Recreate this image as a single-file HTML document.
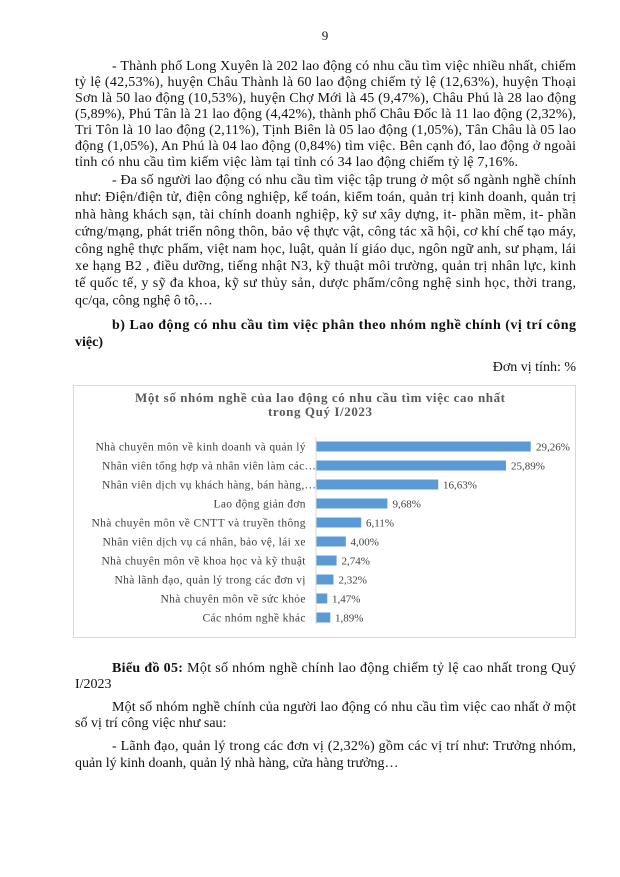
<!DOCTYPE html>
<html>
<head>
<meta charset="utf-8">
<style>
  html,body{margin:0;padding:0;background:#fff;}
  svg{display:block;}
  .t{font-family:"Liberation Serif","Noto Serif CJK SC",serif;font-size:14px;fill:#111;}
  .b{font-weight:bold;}
  .c{font-family:"Liberation Serif",serif;fill:#404040;}
</style>
</head>
<body>
<svg width="620" height="877" viewBox="0 0 620 877" xmlns="http://www.w3.org/2000/svg">
  <rect x="0" y="0" width="620" height="877" fill="#fff"/>
  <text class="t" x="325" y="40" text-anchor="middle" style="font-size:13px">9</text>

  <!-- Paragraph 1 -->
  <text class="t" x="112" y="70" textLength="464" lengthAdjust="spacing">- Thành phố Long Xuyên là 202 lao động có nhu cầu tìm việc nhiều nhất, chiếm</text>
  <text class="t" x="75" y="86" textLength="501" lengthAdjust="spacing">tỷ lệ (42,53%), huyện Châu Thành là 60 lao động chiếm tỷ lệ (12,63%), huyện Thoại</text>
  <text class="t" x="75" y="102" textLength="501" lengthAdjust="spacing">Sơn là 50 lao động (10,53%), huyện Chợ Mới là 45 (9,47%), Châu Phú là 28 lao động</text>
  <text class="t" x="75" y="118" textLength="501" lengthAdjust="spacing">(5,89%), Phú Tân là 21 lao động (4,42%), thành phố Châu Đốc là 11 lao động (2,32%),</text>
  <text class="t" x="75" y="134" textLength="501" lengthAdjust="spacing">Tri Tôn là 10 lao động (2,11%), Tịnh Biên là 05 lao động (1,05%), Tân Châu là 05 lao</text>
  <text class="t" x="75" y="150" textLength="501" lengthAdjust="spacing">động (1,05%), An Phú là 04 lao động (0,84%) tìm việc. Bên cạnh đó, lao động ở ngoài</text>
  <text class="t" x="75" y="166" textLength="443" lengthAdjust="spacing">tỉnh có nhu cầu tìm kiếm việc làm tại tỉnh có 34 lao động chiếm tỷ lệ 7,16%.</text>

  <!-- Paragraph 2 -->
  <text class="t" x="112" y="184" textLength="464" lengthAdjust="spacing">- Đa số người lao động có nhu cầu tìm việc tập trung ở một số ngành nghề chính</text>
  <text class="t" x="75" y="201.2" textLength="501" lengthAdjust="spacing">như: Điện/điện tử, điện công nghiệp, kế toán, kiểm toán, quản trị kinh doanh, quản trị</text>
  <text class="t" x="75" y="218.4" textLength="501" lengthAdjust="spacing">nhà hàng khách sạn, tài chính doanh nghiệp, kỹ sư xây dựng, it- phần mềm, it- phần</text>
  <text class="t" x="75" y="235.6" textLength="501" lengthAdjust="spacing">cứng/mạng, phát triển nông thôn, bảo vệ thực vật, công tác xã hội, cơ khí chế tạo máy,</text>
  <text class="t" x="75" y="252.8" textLength="501" lengthAdjust="spacing">công nghệ thực phẩm, việt nam học, luật, quản lí giáo dục, ngôn ngữ anh, sư phạm, lái</text>
  <text class="t" x="75" y="270" textLength="501" lengthAdjust="spacing">xe hạng B2 , điều dưỡng, tiếng nhật N3, kỹ thuật môi trường, quản trị nhân lực, kinh</text>
  <text class="t" x="75" y="287.2" textLength="501" lengthAdjust="spacing">tế quốc tế, y sỹ đa khoa, kỹ sư thủy sản, dược phẩm/công nghệ sinh học, thời trang,</text>
  <text class="t" x="75" y="304.4">qc/qa, công nghệ ô tô,…</text>

  <!-- Heading b -->
  <text class="t b" x="112" y="329" textLength="464" lengthAdjust="spacing">b) Lao động có nhu cầu tìm việc phân theo nhóm nghề chính (vị trí công</text>
  <text class="t b" x="75" y="346">việc)</text>

  <text class="t" x="576" y="371" text-anchor="end">Đơn vị tính: %</text>

  <!-- Chart -->
  <rect x="73.5" y="385.5" width="502" height="252" fill="#fff" stroke="#d9d9d9" stroke-width="1"/>
  <text class="c b" x="320" y="402" text-anchor="middle" style="font-size:13px;fill:#595959" textLength="370" lengthAdjust="spacing">Một số nhóm nghề của lao động có nhu cầu tìm việc cao nhất</text>
  <text class="c b" x="320" y="416" text-anchor="middle" style="font-size:13px;fill:#595959" textLength="104" lengthAdjust="spacing">trong Quý I/2023</text>

  <line x1="316" y1="437" x2="316" y2="624" stroke="#d9d9d9" stroke-width="1"/>

  <g fill="#5b9bd5">
    <rect x="316.5" y="441.5" width="214.2" height="10"/>
    <rect x="316.5" y="460.5" width="189.5" height="10"/>
    <rect x="316.5" y="479.5" width="121.7" height="10"/>
    <rect x="316.5" y="498.5" width="70.9" height="10"/>
    <rect x="316.5" y="517.5" width="44.7" height="10"/>
    <rect x="316.5" y="536.5" width="29.3" height="10"/>
    <rect x="316.5" y="555.5" width="20.1" height="10"/>
    <rect x="316.5" y="574.5" width="17.0" height="10"/>
    <rect x="316.5" y="593.5" width="10.8" height="10"/>
    <rect x="316.5" y="612.5" width="13.8" height="10"/>
  </g>

  <g class="c" style="font-size:11px">
    <text x="536" y="450.5">29,26%</text>
    <text x="511" y="469.5">25,89%</text>
    <text x="443" y="488.5">16,63%</text>
    <text x="392.5" y="507.5">9,68%</text>
    <text x="366" y="526.5">6,11%</text>
    <text x="350.5" y="545.5">4,00%</text>
    <text x="341.5" y="564.5">2,74%</text>
    <text x="338.5" y="583.5">2,32%</text>
    <text x="332" y="602.5">1,47%</text>
    <text x="335" y="621.5">1,89%</text>
  </g>

  <g class="c" style="font-size:11.5px">
    <text x="305.5" y="450.5" text-anchor="end" textLength="210" lengthAdjust="spacing">Nhà chuyên môn về kinh doanh và quản lý</text>
    <text x="316" y="469.5" text-anchor="end" textLength="214" lengthAdjust="spacing">Nhân viên tổng hợp và nhân viên làm các…</text>
    <text x="316" y="488.5" text-anchor="end" textLength="214" lengthAdjust="spacing">Nhân viên dịch vụ khách hàng, bán hàng,…</text>
    <text x="305.5" y="507.5" text-anchor="end" textLength="92" lengthAdjust="spacing">Lao động giản đơn</text>
    <text x="305.5" y="526.5" text-anchor="end" textLength="214" lengthAdjust="spacing">Nhà chuyên môn về CNTT và truyền thông</text>
    <text x="305.5" y="545.5" text-anchor="end" textLength="203" lengthAdjust="spacing">Nhân viên dịch vụ cá nhân, bảo vệ, lái xe</text>
    <text x="305.5" y="564.5" text-anchor="end" textLength="204" lengthAdjust="spacing">Nhà chuyên môn về khoa học và kỹ thuật</text>
    <text x="305.5" y="583.5" text-anchor="end" textLength="191" lengthAdjust="spacing">Nhà lãnh đạo, quản lý trong các đơn vị</text>
    <text x="305.5" y="602.5" text-anchor="end" textLength="145" lengthAdjust="spacing">Nhà chuyên môn về sức khỏe</text>
    <text x="305.5" y="621.5" text-anchor="end" textLength="103" lengthAdjust="spacing">Các nhóm nghề khác</text>
  </g>

  <!-- Caption and following text -->
  <text class="t" x="112" y="672" textLength="464" lengthAdjust="spacing"><tspan style="font-weight:bold">Biểu đồ 05:</tspan> Một số nhóm nghề chính lao động chiếm tỷ lệ cao nhất trong Quý</text>
  <text class="t" x="75" y="688">I/2023</text>

  <text class="t" x="112" y="711" textLength="464" lengthAdjust="spacing">Một số nhóm nghề chính của người lao động có nhu cầu tìm việc cao nhất  ở một</text>
  <text class="t" x="75" y="727">số vị trí công việc như sau:</text>

  <text class="t" x="112" y="750" textLength="464" lengthAdjust="spacing">- Lãnh đạo, quản lý trong các đơn vị (2,32%) gồm các vị trí như: Trưởng nhóm,</text>
  <text class="t" x="75" y="767">quản lý kinh doanh, quản lý nhà hàng, cửa hàng trưởng…</text>
</svg>
</body>
</html>
